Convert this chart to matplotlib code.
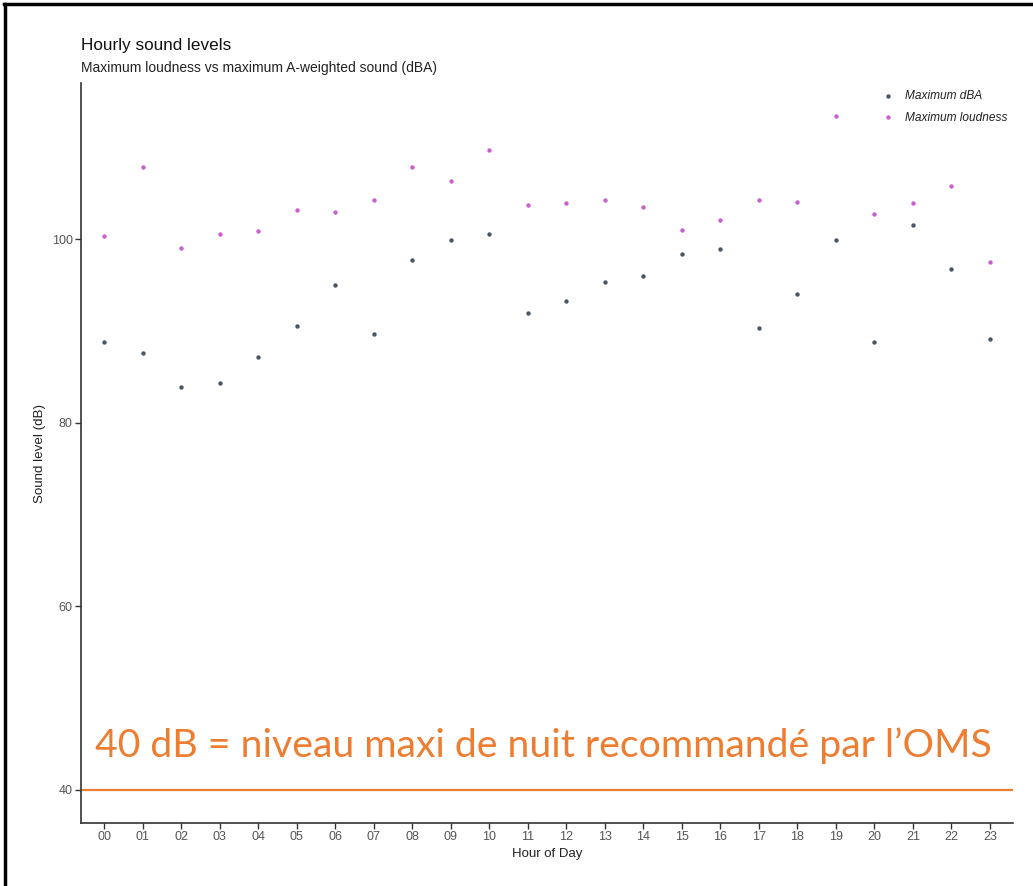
"""Hourly sound levels: maximum loudness vs maximum A-weighted sound."""

import matplotlib.pyplot as plt
from matplotlib.lines import Line2D

hours = ["00", "01", "02", "03", "04", "05", "06", "07", "08", "09", "10", "11",
         "12", "13", "14", "15", "16", "17", "18", "19", "20", "21", "22", "23"]

max_dba = [88.8, 87.6, 83.9, 84.3, 87.2, 90.5, 95.0, 89.7, 97.7, 99.9, 100.6, 92.0,
           93.3, 95.3, 96.0, 98.4, 98.9, 90.3, 94.0, 99.9, 88.8, 101.5, 96.7, 89.1]

max_loudness = [100.3, 107.8, 99.0, 100.6, 100.9, 103.2, 103.0, 104.3, 107.9, 106.3, 109.7, 103.7,
                103.9, 104.3, 103.5, 101.0, 102.1, 104.3, 104.0, 113.4, 102.7, 103.9, 105.8, 97.5]

who_night_limit = 40
y_ticks = [40, 60, 80, 100]

ORANGE = "#ed7d31"
DBA_COLOR = "#4a5663"
LOUD_COLOR = "#c95fcf"

plt.rcParams["font.family"] = ["Liberation Sans", "DejaVu Sans"]

fig = plt.figure(figsize=(10.33, 8.86), dpi=100)
ax = fig.add_axes([0.0784, 0.0711, 0.9022, 0.8352])

x = list(range(len(hours)))
ax.scatter(x, max_dba, s=10, color=DBA_COLOR, linewidths=0, label="Maximum dBA", zorder=3)
ax.scatter(x, max_loudness, s=10, color=LOUD_COLOR, linewidths=0, label="Maximum loudness", zorder=3)

ax.axhline(who_night_limit, color=ORANGE, linewidth=1.6, zorder=2)
ax.text(-0.23, 43.6, "40 dB = niveau maxi de nuit recommandé par l’OMS",
        color=ORANGE, fontsize=28.3, family=["Lato", "DejaVu Sans"],
        ha="left", va="baseline")

ax.set_xlim(-0.6, len(hours) - 0.4)
ax.set_ylim(36.4, 117.0)
ax.set_xticks(x)
ax.set_xticklabels(hours)
ax.set_yticks(y_ticks)

for side in ("top", "right"):
    ax.spines[side].set_visible(False)
for side in ("left", "bottom"):
    ax.spines[side].set_color("#333333")
    ax.spines[side].set_linewidth(1.2)
ax.tick_params(axis="both", colors="#333333", labelcolor="#555555",
               labelsize=9, length=4, width=1, pad=2)

ax.set_xlabel("Hour of Day", fontsize=9.5, color="#222222", labelpad=3)
ax.set_ylabel("Sound level (dB)", fontsize=9.6, color="#222222", labelpad=4)

leg = ax.legend(loc="upper right", bbox_to_anchor=(1.0055, 1.004), frameon=False,
                prop={"style": "italic", "size": 8.6}, handletextpad=0.5,
                labelspacing=0.78, borderaxespad=0.45, markerscale=1.0)
for text in leg.get_texts():
    text.set_color("#222222")

fig.text(0.0784, 0.944, "Hourly sound levels", fontsize=12.3, color="#111111",
         ha="left", va="baseline")
fig.text(0.0784, 0.919, "Maximum loudness vs maximum A-weighted sound (dBA)",
         fontsize=10, color="#222222", ha="left", va="baseline")

# slide frame: thick rule along the top and left edges
fig.add_artist(Line2D([0.004, 1.0], [0.9955, 0.9955], color="black", linewidth=2.5,
                      transform=fig.transFigure))
fig.add_artist(Line2D([0.005, 0.005], [0.0, 0.9955], color="black", linewidth=2.5,
                      transform=fig.transFigure))

fig.savefig("out.png", dpi=100)
